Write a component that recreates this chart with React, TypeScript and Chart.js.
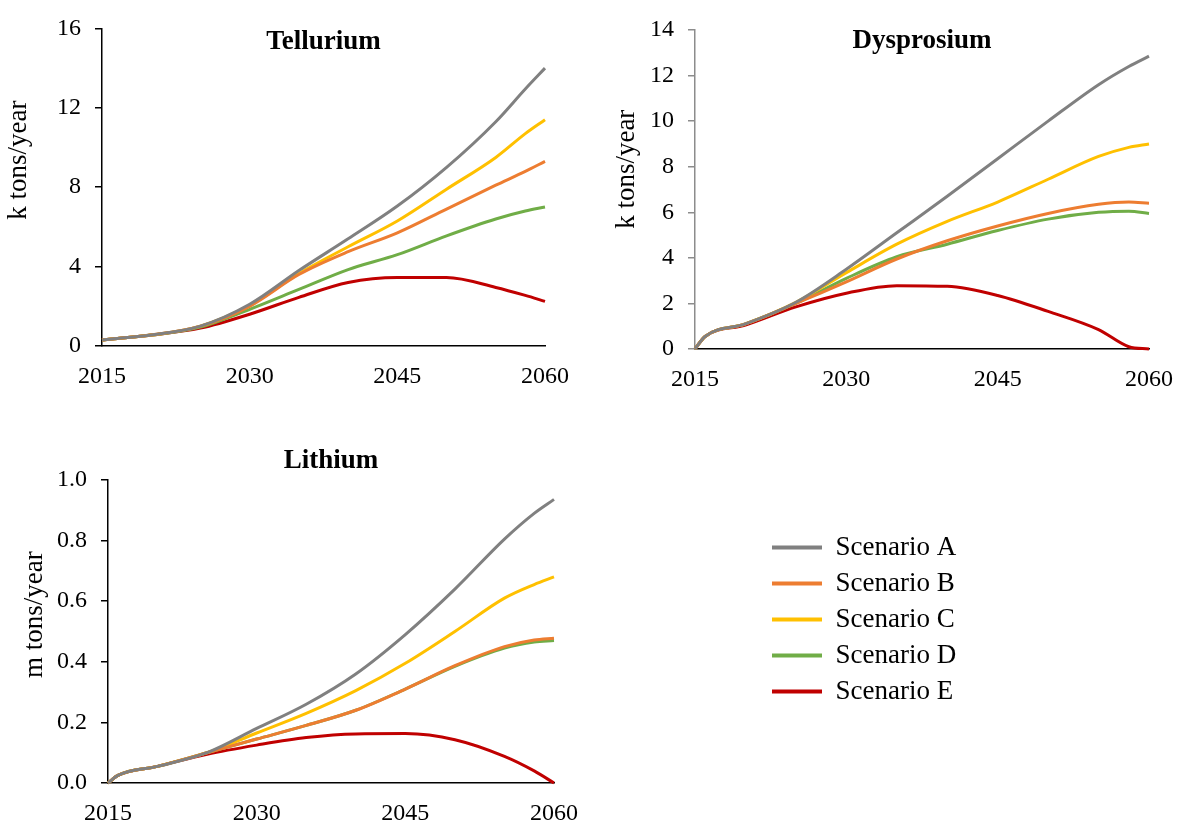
import React, { useEffect, useRef } from 'react';
import { Chart, registerables } from 'chart.js';

Chart.register(...registerables);

const FONT = "'Liberation Serif', 'Times New Roman', serif";

const YEARS = [2015, 2016, 2020, 2025, 2030, 2035, 2040, 2045, 2050, 2055, 2058, 2060];
const X_TICKS = [2015, 2030, 2045, 2060];

const SERIES_NAMES = ['Scenario A', 'Scenario B', 'Scenario C', 'Scenario D', 'Scenario E'];
const SERIES_COLORS = ['#808080', '#ED7D31', '#FFC000', '#70AD47', '#C00000'];

// Tellurium (k tons/year)
const TELLURIUM_A = [0.3, 0.35, 0.55, 1.0, 2.1, 3.8, 5.4, 7.05, 9.0, 11.3, 12.95, 14.0];
const TELLURIUM_B = [0.3, 0.35, 0.55, 1.0, 2.0, 3.6, 4.75, 5.7, 6.9, 8.1, 8.8, 9.3];
const TELLURIUM_C = [0.3, 0.35, 0.55, 1.0, 2.05, 3.65, 5.0, 6.3, 7.9, 9.5, 10.7, 11.4];
const TELLURIUM_D = [0.3, 0.35, 0.55, 0.95, 1.85, 2.85, 3.85, 4.6, 5.55, 6.4, 6.8, 7.0];
const TELLURIUM_E = [0.3, 0.35, 0.55, 0.9, 1.6, 2.45, 3.2, 3.45, 3.45, 2.95, 2.55, 2.25];
const TELLURIUM_Y_TICKS = [0, 4, 8, 12, 16];

// Dysprosium (k tons/year)
const DYSPROSIUM_A = [0, 0.55, 1.1, 2.05, 3.5, 5.1, 6.7, 8.35, 10.0, 11.6, 12.4, 12.85];
const DYSPROSIUM_B = [0, 0.55, 1.1, 2.0, 2.95, 3.95, 4.75, 5.4, 5.95, 6.35, 6.45, 6.4];
const DYSPROSIUM_C = [0, 0.55, 1.1, 2.05, 3.35, 4.6, 5.6, 6.45, 7.45, 8.45, 8.85, 9.0];
const DYSPROSIUM_D = [0, 0.55, 1.1, 2.0, 3.1, 4.05, 4.6, 5.2, 5.7, 6.0, 6.05, 5.95];
const DYSPROSIUM_E = [0, 0.55, 1.05, 1.85, 2.45, 2.78, 2.75, 2.35, 1.65, 0.85, 0.1, 0.0];
const DYSPROSIUM_Y_TICKS = [0, 2, 4, 6, 8, 10, 12, 14];

// Lithium (m tons/year)
const LITHIUM_A = [0, 0.025, 0.055, 0.1, 0.18, 0.26, 0.36, 0.49, 0.64, 0.805, 0.89, 0.936];
const LITHIUM_B = [0, 0.025, 0.055, 0.1, 0.145, 0.19, 0.24, 0.31, 0.387, 0.45, 0.472, 0.478];
const LITHIUM_C = [0, 0.025, 0.055, 0.1, 0.165, 0.23, 0.305, 0.395, 0.5, 0.61, 0.655, 0.68];
const LITHIUM_D = [0, 0.025, 0.055, 0.1, 0.145, 0.19, 0.24, 0.31, 0.385, 0.445, 0.465, 0.47];
const LITHIUM_E = [0, 0.025, 0.055, 0.095, 0.125, 0.15, 0.162, 0.163, 0.143, 0.088, 0.04, 0.0];
const LITHIUM_Y_TICKS = [0, 0.2, 0.4, 0.6, 0.8, 1.0];

type Panel = {
  left: number;
  top: number;
  width: number;
  height: number;
  area: { l: number; r: number; t: number; b: number };
  title: string;
  titleMid: number;
  yTitle: string;
  yTitleX: number;
  yTicks: number[];
  fmt: (v: number) => string;
  series: number[][];
  yColor: string;
};

const PANELS: Panel[] = [
  {
    left: 0, top: 0, width: 590, height: 410,
    area: { l: 102, r: 545, t: 25, b: 346 },
    title: 'Tellurium', titleMid: 39,
    yTitle: '        k tons/year', yTitleX: 19,
    yTicks: TELLURIUM_Y_TICKS, fmt: (v) => String(v),
    series: [TELLURIUM_A, TELLURIUM_B, TELLURIUM_C, TELLURIUM_D, TELLURIUM_E],
    yColor: '#000000',
  },
  {
    left: 590, top: 0, width: 599, height: 410,
    area: { l: 105, r: 570, t: 30, b: 349 },
    title: 'Dysprosium', titleMid: 41,
    yTitle: '      k tons/year', yTitleX: 37,
    yTicks: DYSPROSIUM_Y_TICKS, fmt: (v) => String(v),
    series: [DYSPROSIUM_A, DYSPROSIUM_B, DYSPROSIUM_C, DYSPROSIUM_D, DYSPROSIUM_E],
    yColor: '#8c8c8c',
  },
  {
    left: 0, top: 420, width: 600, height: 402,
    area: { l: 108, r: 554, t: 60, b: 363 },
    title: 'Lithium', titleMid: 41,
    yTitle: '     m tons/year', yTitleX: 35,
    yTicks: LITHIUM_Y_TICKS, fmt: (v) => v.toFixed(1),
    series: [LITHIUM_A, LITHIUM_B, LITHIUM_C, LITHIUM_D, LITHIUM_E],
    yColor: '#000000',
  },
];

const TITLE_SIZE = 27;
const TICK_SIZE = 24;
const AXIS_TITLE_SIZE = 27;
const LEGEND_SIZE = 27;

function panelConfig(p: Panel): any {
  const lineH = TITLE_SIZE * 1.2;
  const padTop = p.titleMid - lineH / 2;
  const padBottom = p.area.t - lineH - padTop;
  const axisLineH = AXIS_TITLE_SIZE * 1.2;
  const yMax = p.yTicks[p.yTicks.length - 1];
  return {
    type: 'line',
    data: {
      datasets: p.series.map((vals, i) => ({
        label: SERIES_NAMES[i],
        data: YEARS.map((yr, j) => ({ x: yr, y: vals[j] })),
        borderColor: SERIES_COLORS[i],
        backgroundColor: SERIES_COLORS[i],
        borderWidth: 3,
        pointRadius: 0,
        fill: false,
        cubicInterpolationMode: 'monotone',
        clip: false,
      })),
    },
    options: {
      responsive: false,
      animation: false,
      layout: { padding: { left: 0, right: p.width - p.area.r, top: 0, bottom: 0 } },
      plugins: {
        legend: { display: false },
        tooltip: { enabled: false },
        title: {
          display: true,
          text: p.title,
          fullSize: false,
          color: '#000',
          font: { family: FONT, size: TITLE_SIZE, weight: 'bold', lineHeight: 1.2 },
          padding: { top: padTop, bottom: padBottom },
        },
      },
      scales: {
        x: {
          type: 'linear',
          min: 2015,
          max: 2060,
          afterBuildTicks: (s: any) => {
            s.ticks = X_TICKS.map((v) => ({ value: v }));
          },
          afterFit: (s: any) => {
            s.height = p.height - p.area.b;
          },
          grid: { display: false, drawTicks: false },
          border: { display: true, color: '#000', width: 1.5 },
          ticks: {
            padding: 16,
            color: '#000',
            font: { family: FONT, size: TICK_SIZE },
            maxRotation: 0,
            autoSkip: false,
            callback: (v: any) => String(v),
          },
        },
        y: {
          min: 0,
          max: yMax,
          afterBuildTicks: (s: any) => {
            s.ticks = p.yTicks.map((v) => ({ value: v }));
          },
          afterFit: (s: any) => {
            s.width = p.area.l;
          },
          grid: { display: true, drawOnChartArea: false, drawTicks: true, tickLength: 7, color: p.yColor, lineWidth: 1.5 },
          border: { display: true, color: p.yColor, width: 1.5 },
          ticks: {
            padding: 14,
            color: '#000',
            font: { family: FONT, size: TICK_SIZE },
            autoSkip: false,
            callback: (v: any) => p.fmt(Number(v)),
          },
          title: {
            display: true,
            text: p.yTitle,
            color: '#000',
            font: { family: FONT, size: AXIS_TITLE_SIZE, lineHeight: 1.2 },
            padding: { top: p.yTitleX - axisLineH / 2, bottom: 0 },
          },
        },
      },
    },
  };
}

function legendConfig(): any {
  return {
    type: 'line',
    data: {
      datasets: SERIES_NAMES.map((name, i) => ({
        label: name,
        data: [],
        borderColor: SERIES_COLORS[i],
        backgroundColor: SERIES_COLORS[i],
        borderWidth: 0,
      })),
    },
    options: {
      responsive: false,
      animation: false,
      layout: { padding: 0 },
      scales: { x: { display: false }, y: { display: false } },
      plugins: {
        tooltip: { enabled: false },
        legend: {
          display: true,
          position: 'left',
          align: 'start',
          labels: {
            boxWidth: 50,
            boxHeight: 4,
            padding: 9,
            color: '#000',
            font: { family: FONT, size: LEGEND_SIZE },
          },
        },
      },
    },
  };
}

const LEGEND_BOX = { left: 763, top: 525, width: 430, height: 200 };

function ChartCanvas({ config, left, top, width, height }: any) {
  const ref = useRef<HTMLCanvasElement | null>(null);
  useEffect(() => {
    if (!ref.current) return;
    const chart = new Chart(ref.current, config);
    return () => chart.destroy();
  }, []);
  return (
    <canvas
      ref={ref}
      width={width}
      height={height}
      style={{ position: 'absolute', left, top, width, height }}
    />
  );
}

export default function App() {
  return (
    <div
      style={{
        position: 'absolute',
        left: 0,
        top: 0,
        width: 1189,
        height: 822,
        overflow: 'hidden',
        background: '#fff',
      }}
    >
      {PANELS.map((p) => (
        <ChartCanvas
          key={p.title}
          config={panelConfig(p)}
          left={p.left}
          top={p.top}
          width={p.width}
          height={p.height}
        />
      ))}
      <ChartCanvas
        config={legendConfig()}
        left={LEGEND_BOX.left}
        top={LEGEND_BOX.top}
        width={LEGEND_BOX.width}
        height={LEGEND_BOX.height}
      />
    </div>
  );
}
